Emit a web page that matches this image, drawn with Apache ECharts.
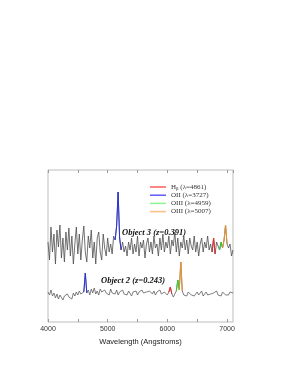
<!DOCTYPE html>
<html>
<head>
<meta charset="utf-8">
<script src="https://cdn.jsdelivr.net/npm/echarts@6/dist/echarts.min.js"></script>
<style>html,body{margin:0;padding:0;background:#fff}#c{width:282px;height:365px}</style>
</head>
<body>
<div id="c"></div>
<script>
// Wavelength grid (Angstroms), 25 A sampling from 4000 to 7100
const wavelength = Array.from({length: 125}, (_, i) => 4000 + 25 * i);

// Object 3 spectrum (offset flux, arbitrary units)
const object3Flux = [
  80,62,95,70,88,58,92,75,97,64,
  84,60,90,72,94,66,86,58,78,95,
  68,88,62,82,96,70,60,86,74,92,
  64,80,58,84,90,70,62,88,74,66,
  84,70,78,68,86,82,96,130,84,72,
  80,70,76,66,80,72,84,68,78,70,
  86,66,80,74,82,64,78,84,70,80,
  68,86,74,78,66,84,72,88,70,80,
  74,86,68,82,76,90,70,84,66,80,
  74,86,72,82,68,84,76,72,86,70,
  80,66,78,84,70,80,74,86,72,78,
  70,84,68,80,76,72,80,74,82,97,
  78,74,78,66,72
];

// Object 2 spectrum (offset flux, arbitrary units)
const object2Flux = [
  30,27,32,26,29,24,28,23,27,25,
  22,26,24,28,25,27,23,29,26,30,
  27,31,28,26,30,49,29,32,27,33,
  29,34,28,31,27,33,30,28,32,29,
  31,27,33,29,30,28,32,27,30,29,
  32,28,30,27,31,29,26,30,28,31,
  27,30,28,32,29,27,30,28,31,29,
  28,31,27,30,29,32,28,27,30,29,
  27,30,35,28,25,28,31,42,32,60,
  31,27,29,26,30,28,27,29,26,28,
  30,27,29,31,26,28,30,27,29,28,
  26,29,28,31,27,29,26,30,28,27,
  29,27,30,28,29
];

// Emission lines
const lineNames = ['Hβ (λ=4861)', 'OII (λ=3727)', 'OIII (λ=4959)', 'OIII (λ=5007)'];
const lineColors = ['#ea2a2a', '#2a33df', '#2fd02f', '#e8952e'];
const legendColors = ['#ff5e5e', '#5c5cff', '#8cf58c', '#ffbe82'];
// wavelength ranges highlighted on each spectrum (observed frame)
const object3Lines = [[6750, 6800], [5125, 5225], [6875, 6925], [6925, 7000]];
const object2Lines = [[6025, 6075], [4600, 4650], [6150, 6200], [6200, 6250]];

const xTickLabels = [4000, 5000, 6000, 7000];

function pairs(flux) { return wavelength.map((w, i) => [w, flux[i]]); }
function slice(flux, r) { return pairs(flux).filter(d => d[0] >= r[0] && d[0] <= r[1]); }

const series = [
  {type:'line', data: pairs(object3Flux), symbol:'none', lineStyle:{color:'#4e4e4e', width:0.8}, silent:true},
  {type:'line', data: pairs(object2Flux), symbol:'none', lineStyle:{color:'#5e5e5e', width:0.8}, silent:true}
];
lineNames.forEach((n, k) => {
  series.push({type:'line', name:n, data: slice(object3Flux, object3Lines[k]), symbol:'none', color: lineColors[k], lineStyle:{color:lineColors[k], width:1}, z:3});
  series.push({type:'line', name:n, data: slice(object2Flux, object2Lines[k]), symbol:'none', color: lineColors[k], lineStyle:{color:lineColors[k], width:1}, z:3});
});

const chart = echarts.init(document.getElementById('c'), null, {renderer:'canvas'});
const axisCommon = {
  type:'value', min:4000, max:7100, interval:500,
  axisLine:{show:false}, splitLine:{show:false},
  axisTick:{inside:true, length:3, lineStyle:{color:'#999', width:1}}
};
chart.setOption({
  animation:false,
  backgroundColor:'#fff',
  grid:{left:48, top:170, width:185, height:152, show:true, borderColor:'#bdbdbd', borderWidth:1},
  xAxis:[
    Object.assign({}, axisCommon, {
      position:'bottom',
      axisLabel:{fontSize:7, color:'#333', fontFamily:'Liberation Sans', margin:4, showMaxLabel:false,
        formatter: v => xTickLabels.includes(v) ? String(v) : ''},
      name:'Wavelength (Angstroms)', nameLocation:'middle', nameGap:16,
      nameTextStyle:{fontSize:7.5, color:'#222', fontFamily:'Liberation Sans'}
    }),
    Object.assign({}, axisCommon, {position:'top', axisLabel:{show:false}})
  ],
  yAxis:{type:'value', min:0, max:152, show:false},
  legend:{
    orient:'vertical', left:145, top:178, itemWidth:16, itemHeight:1.5, itemGap:0.2, icon:'rect',
    data: lineNames.map((n, k) => ({name:n, itemStyle:{color:legendColors[k]}})),
    textStyle:{fontSize:7, color:'#333', fontFamily:'Liberation Serif', lineHeight:8,
      rich:{m:{fontSize:7, fontFamily:'Liberation Serif', color:'#333'}, s:{fontSize:5, fontFamily:'Liberation Serif', color:'#333', padding:[3,0,0,0]}}},
    formatter: n => n.startsWith('Hβ') ? '{m|H}{s|β}{m|' + n.slice(2) + '}' : n,
    selectedMode:false
  },
  graphic:[
    {type:'text', left:122, top:228, style:{text:'Object 3 (z=0.391)', font:'italic bold 8.5px "Liberation Serif"', fill:'#111'}},
    {type:'text', left:101, top:276, style:{text:'Object 2 (z=0.243)', font:'italic bold 8.5px "Liberation Serif"', fill:'#111'}}
  ],
  series: series
});
</script>
</body>
</html>
